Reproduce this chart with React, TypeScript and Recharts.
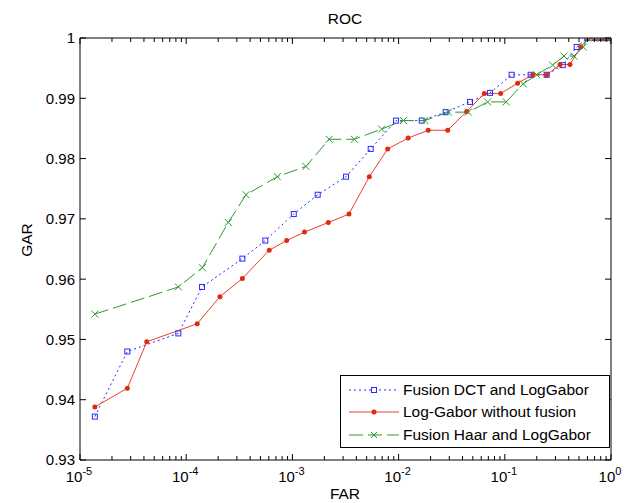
import React from "react";
import { LineChart, Line, XAxis, YAxis, Legend } from "recharts";

const FONT = "'Liberation Sans', Arial, Helvetica, sans-serif";

// Fusion DCT and LogGabor
const dctFar = [1.38e-5, 2.79e-5, 8.43e-5, 1.41e-4, 3.38e-4, 5.56e-4, 1.03e-3, 1.73e-3, 3.2e-3, 5.46e-3, 9.46e-3, 1.65e-2, 2.77e-2, 4.7e-2, 7.26e-2, 0.116, 0.175, 0.248, 0.351, 0.475, 0.598, 0.7, 0.8, 0.9, 1.0];
const dctGar = [0.9372, 0.948, 0.951, 0.9587, 0.9634, 0.9664, 0.9708, 0.974, 0.977, 0.9816, 0.9863, 0.9863, 0.9877, 0.9894, 0.9909, 0.9939, 0.9939, 0.9939, 0.9955, 0.9985, 1, 1, 1, 1, 1];

// Log-Gabor without fusion
const lgFar = [1.38e-5, 2.79e-5, 4.25e-5, 1.27e-4, 2.08e-4, 3.38e-4, 6.05e-4, 8.83e-4, 1.3e-3, 2.18e-3, 3.41e-3, 5.3e-3, 7.89e-3, 1.23e-2, 1.9e-2, 2.9e-2, 4.38e-2, 6.41e-2, 9.15e-2, 0.132, 0.183, 0.248, 0.331, 0.411, 0.519, 0.61, 0.7, 0.8, 0.9, 1.0];
const lgGar = [0.9388, 0.9419, 0.9496, 0.9526, 0.9571, 0.9601, 0.9648, 0.9664, 0.9678, 0.9694, 0.9708, 0.977, 0.9816, 0.9834, 0.9847, 0.9847, 0.9878, 0.9908, 0.9908, 0.9925, 0.9939, 0.9939, 0.9956, 0.9956, 0.9985, 1, 1, 1, 1, 1];

// Fusion Haar and LogGabor
const haarFar = [1.38e-5, 8.43e-5, 1.42e-4, 2.49e-4, 3.66e-4, 7.21e-4, 1.34e-3, 2.22e-3, 3.83e-3, 6.93e-3, 1.11e-2, 1.77e-2, 2.94e-2, 4.53e-2, 6.9e-2, 0.103, 0.149, 0.2, 0.282, 0.361, 0.448, 0.548, 0.6, 0.7, 0.8, 0.9, 1.0];
const haarGar = [0.9542, 0.9587, 0.9619, 0.9694, 0.974, 0.977, 0.9787, 0.9832, 0.9832, 0.9849, 0.9863, 0.9863, 0.9877, 0.9877, 0.9894, 0.9894, 0.9924, 0.9939, 0.9955, 0.997, 0.997, 0.9985, 1, 1, 1, 1, 1];

const decades = [1e-5, 1e-4, 1e-3, 1e-2, 1e-1, 1];
const minorSteps = [2, 3, 4, 5, 6, 7, 8, 9];
const yTicks = [0.93, 0.94, 0.95, 0.96, 0.97, 0.98, 0.99, 1];

const BLUE = "#2a2aff";
const RED = "#e8402a";
const GREEN = "#2e992e";

const toPoints = (far: number[], gar: number[]) => far.map((f, i) => ({ far: f, gar: gar[i] }));
const dctData = toPoints(dctFar, dctGar);
const lgData = toPoints(lgFar, lgGar);
const haarData = toPoints(haarFar, haarGar);

const xTicks = [
  ...decades,
  ...decades.slice(0, -1).flatMap((d) => minorSteps.map((m) => m * d)),
].sort((a, b) => a - b);

const isDecade = (v: number) => Math.abs(Math.log10(v) - Math.round(Math.log10(v))) < 1e-9;

const BottomTick = (props: any) => {
  const { x, y, payload } = props;
  const major = isDecade(payload.value);
  return (
    <g>
      <line x1={x} x2={x} y1={y} y2={y - (major ? 6 : 4)} stroke="#000" />
      {major && (
        <text x={x - 1} y={y + 22} textAnchor="middle" fontSize={15} fontFamily={FONT} fill="#000">
          10
          <tspan dy={-7} fontSize={11}>{Math.round(Math.log10(payload.value))}</tspan>
        </text>
      )}
    </g>
  );
};

const TopTick = (props: any) => {
  const { x, y, payload } = props;
  const major = isDecade(payload.value);
  return <line x1={x} x2={x} y1={y} y2={y + (major ? 6 : 4)} stroke="#000" />;
};

const LeftTick = (props: any) => {
  const { x, y, payload } = props;
  return (
    <g>
      <line x1={x} x2={x + 6} y1={y} y2={y} stroke="#000" />
      <text x={x - 5} y={y} dy="0.36em" textAnchor="end" fontSize={15} fontFamily={FONT} fill="#000">
        {String(Number(payload.value.toFixed(2)))}
      </text>
    </g>
  );
};

const RightTick = (props: any) => {
  const { x, y } = props;
  return <line x1={x - 6} x2={x} y1={y} y2={y} stroke="#000" />;
};

const squareDot = (p: any) => (
  <rect key={`s-${p.index}`} x={p.cx - 2.5} y={p.cy - 2.5} width={5} height={5} fill="none" stroke={BLUE} strokeWidth={1} />
);
const circleDot = (p: any) => <circle key={`c-${p.index}`} cx={p.cx} cy={p.cy} r={2.5} fill="#e02a10" stroke="none" />;
const crossDot = (p: any) => (
  <path key={`x-${p.index}`} d={`M${p.cx - 3.5},${p.cy - 3.5}L${p.cx + 3.5},${p.cy + 3.5}M${p.cx - 3.5},${p.cy + 3.5}L${p.cx + 3.5},${p.cy - 3.5}`} stroke={GREEN} strokeWidth={1} fill="none" />
);

const legendItems = [
  { name: "Fusion DCT and LogGabor", color: BLUE, dash: "2 3", marker: "square" },
  { name: "Log-Gabor without fusion", color: RED, dash: undefined, marker: "circle" },
  { name: "Fusion Haar and LogGabor", color: GREEN, dash: "14 5", marker: "cross" },
];

const renderLegend = () => (
  <div style={{ position: "relative", width: 270, height: 73, border: "1px solid #000", background: "#fff", boxSizing: "border-box", fontFamily: FONT, fontSize: 15.5, color: "#000" }}>
    {legendItems.map((it, i) => (
      <div key={it.name} style={{ position: "absolute", left: 0, top: 3 + i * 22.3, height: 22, display: "flex", alignItems: "center", whiteSpace: "nowrap" }}>
        <svg width={62} height={22} style={{ display: "block" }}>
          <line x1={8} x2={58} y1={11} y2={11} stroke={it.color} strokeDasharray={it.dash} />
          {it.marker === "square" && <rect x={30.5} y={8.5} width={5} height={5} fill="#fff" stroke={it.color} />}
          {it.marker === "circle" && <circle cx={33} cy={11} r={2.5} fill="#e02a10" />}
          {it.marker === "cross" && <path d="M30,8L36,14M30,14L36,8" stroke={it.color} fill="none" />}
        </svg>
        <span>{it.name}</span>
      </div>
    ))}
  </div>
);

export default function App() {
  return (
    <div style={{ position: "absolute", left: 0, top: 0, width: 634, height: 503, background: "#fff" }}>
      <LineChart width={634} height={503} margin={{ top: 0, right: 0, bottom: 0, left: 0 }}>
        <XAxis xAxisId="b" dataKey="far" type="number" scale="log" domain={[1e-5, 1]} ticks={xTicks} interval={0} allowDataOverflow height={43} tickSize={0} tickMargin={0} tick={BottomTick} axisLine={{ stroke: "#000" }} />
        <XAxis xAxisId="t" orientation="top" dataKey="far" type="number" scale="log" domain={[1e-5, 1]} ticks={xTicks} interval={0} allowDataOverflow height={38} tickSize={0} tickMargin={0} tick={TopTick} axisLine={{ stroke: "#000" }} />
        <YAxis yAxisId="l" type="number" domain={[0.93, 1]} ticks={yTicks} interval={0} allowDataOverflow width={80} tickSize={0} tickMargin={0} tick={LeftTick} axisLine={{ stroke: "#000" }} />
        <YAxis yAxisId="r" orientation="right" type="number" domain={[0.93, 1]} ticks={yTicks} interval={0} allowDataOverflow width={23} tickSize={0} tickMargin={0} tick={RightTick} axisLine={{ stroke: "#000" }} />
        <Line xAxisId="b" yAxisId="l" data={dctData} dataKey="gar" name="Fusion DCT and LogGabor" stroke={BLUE} strokeWidth={1} strokeDasharray="2 3" dot={squareDot} activeDot={false} isAnimationActive={false} />
        <Line xAxisId="b" yAxisId="l" data={lgData} dataKey="gar" name="Log-Gabor without fusion" stroke={RED} strokeWidth={1} dot={circleDot} activeDot={false} isAnimationActive={false} />
        <Line xAxisId="b" yAxisId="l" data={haarData} dataKey="gar" name="Fusion Haar and LogGabor" stroke={GREEN} strokeWidth={1} strokeDasharray="14 5" dot={crossDot} activeDot={false} isAnimationActive={false} />
        <Legend layout="horizontal" verticalAlign="middle" align="center" content={renderLegend} wrapperStyle={{ left: 340, top: 375, width: 270, height: 73 }} />
        <text x={345} y={24} textAnchor="middle" fontSize={15.5} fontFamily={FONT} fill="#000">ROC</text>
        <text x={345} y={499} textAnchor="middle" fontSize={15.5} fontFamily={FONT} fill="#000">FAR</text>
        <text x={32} y={240} textAnchor="middle" fontSize={15.5} fontFamily={FONT} fill="#000" transform="rotate(-90 32 240)">GAR</text>
      </LineChart>
    </div>
  );
}
